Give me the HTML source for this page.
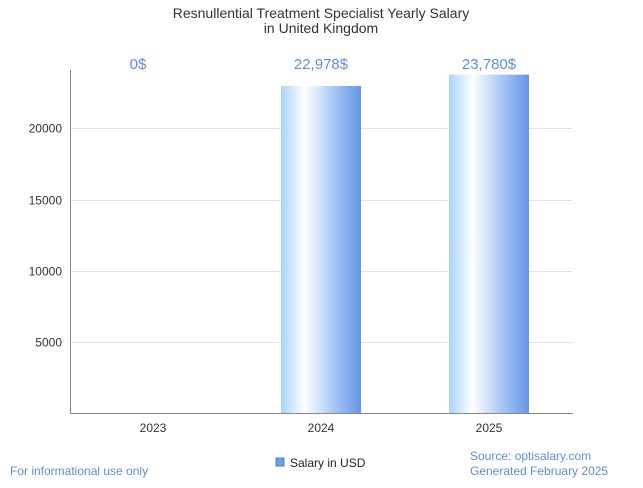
<!DOCTYPE html>
<html><head><meta charset="utf-8"><style>
body{margin:0;background:#fff;font-family:"Liberation Sans",sans-serif;}
svg text{font-family:"Liberation Sans",sans-serif;}
</style></head><body>
<svg id="chart" width="643" height="483" viewBox="0 0 643 483" xmlns="http://www.w3.org/2000/svg">
<defs>
<linearGradient id="barGrad" x1="0" x2="1" y1="0" y2="0">
<stop offset="0" stop-color="#a9d4ff"/>
<stop offset="0.3" stop-color="#ffffff"/>
<stop offset="0.65" stop-color="#a9c8f5"/>
<stop offset="1" stop-color="#6595e8"/>
</linearGradient>
</defs>
<text x="321" y="18" text-anchor="middle" font-size="14" fill="#333">Resnullential Treatment Specialist Yearly Salary</text>
<text x="321" y="33" text-anchor="middle" font-size="14" fill="#333">in United Kingdom</text>
<g id="grid"></g>
<g id="bars"></g>
<line x1="70.5" y1="70" x2="70.5" y2="413" stroke="#888"/>
<line x1="70" y1="413.5" x2="573" y2="413.5" stroke="#888"/>
<g>
<rect x="276" y="458" width="8" height="8" fill="#6a9fe0" stroke="#4a7fc0"/>
<text x="290" y="467" font-size="12" fill="#222">Salary in USD</text>
</g>
<text x="10" y="475" font-size="12" fill="#5b8fd9">For informational use only</text>
<text x="470" y="460" font-size="12" fill="#5b8fd9">Source: optisalary.com</text>
<text x="470" y="475" font-size="12" fill="#5b8fd9">Generated February 2025</text>
</svg>
<script>
const categories=["2023","2024","2025"];
const salaries=[0,22978,23780];
const valueLabels=["0$","22,978$","23,780$"];
const yTicks=[5000,10000,15000,20000];
const NS="http://www.w3.org/2000/svg";
function yScale(v){return 413-v*0.01423;}
function xCenter(i){return 153+i*168;}
const grid=document.getElementById('grid');
yTicks.forEach(t=>{
 const y=Math.round(yScale(t))+0.5;
 const l=document.createElementNS(NS,'line');
 
 
 l.setAttribute('x1',70);l.setAttribute('x2',573);l.setAttribute('y1',y);l.setAttribute('y2',y);
 l.setAttribute('stroke','#e2e2e2');grid.appendChild(l);
 const tx=document.createElementNS(NS,'text');
 
 
 tx.setAttribute('x',62);tx.setAttribute('y',y+4);tx.setAttribute('text-anchor','end');
 tx.setAttribute('font-size','12');tx.setAttribute('fill','#333');tx.textContent=t;grid.appendChild(tx);
});
const bars=document.getElementById('bars');
categories.forEach((c,i)=>{
 const cx=xCenter(i),top=yScale(salaries[i]);
 if(salaries[i]>0){
 const r=document.createElementNS(NS,'rect');
 
 
 r.setAttribute('x',cx-40);r.setAttribute('y',top);r.setAttribute('width',80);r.setAttribute('height',413-top);
 r.setAttribute('fill','url(#barGrad)');bars.appendChild(r);}
 const v=document.createElementNS(NS,'text');
 
 
 v.setAttribute('x',salaries[i]===0?cx-15:cx);v.setAttribute('y',69);v.setAttribute('text-anchor','middle');
 v.setAttribute('font-size','15');v.setAttribute('fill','#5b8fe0');v.textContent=valueLabels[i];
 bars.appendChild(v);
 const xl=document.createElementNS(NS,'text');
 
 
 xl.setAttribute('x',cx);xl.setAttribute('y',432);xl.setAttribute('text-anchor','middle');
 xl.setAttribute('font-size','12');xl.setAttribute('fill','#333');xl.textContent=c;bars.appendChild(xl);
});
</script>
</body></html>
